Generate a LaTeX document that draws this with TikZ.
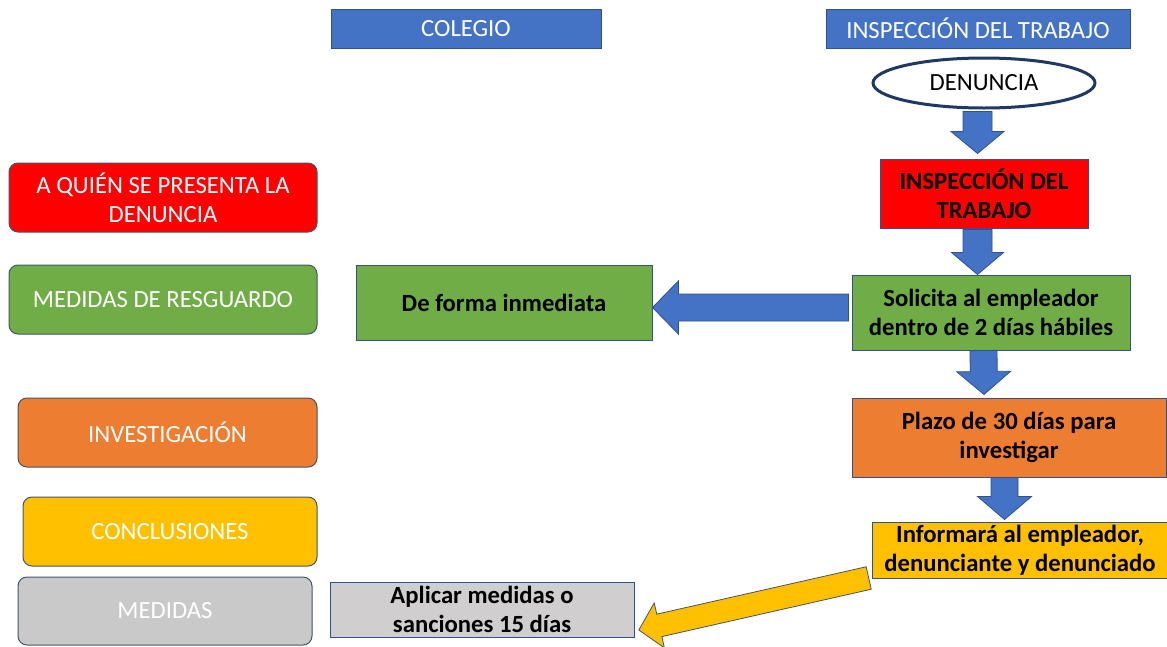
\documentclass[tikz,border=0pt]{standalone}
\usepackage{fontspec}
\setmainfont{Carlito}
\usetikzlibrary{calc,shapes.geometric}
\definecolor{cblue}{HTML}{4472C4}
\definecolor{cedge}{HTML}{2F528F}
\definecolor{cred}{HTML}{FF0000}
\definecolor{cgreen}{HTML}{70AD47}
\definecolor{corange}{HTML}{ED7D31}
\definecolor{cgold}{HTML}{FFC000}
\definecolor{cgrayL}{HTML}{C9C9C9}
\definecolor{cgrayM}{HTML}{D0CECE}
\definecolor{cnavy}{HTML}{1F3864}
\definecolor{cleftedge}{HTML}{44546A}
\newcommand\blkarrow[6]{%
  \path let \p1=(#2), \p2=(#3) in \pgfextra{%
    \pgfmathsetmacro\bkang{atan2(\y2-\y1,\x2-\x1)}%
    \pgfmathsetmacro\bklen{veclen(\x2-\x1,\y2-\y1)}%
    \xdef\bkang{\bkang}\xdef\bklen{\bklen}%
    \xdef\bkx{\x1}\xdef\bky{\y1}};
  \draw[#1, shift={(\bkx,\bky)}, rotate=\bkang] (0,-#4) -- ({\bklen-#6},-#4) -- ({\bklen-#6},-#5) -- (\bklen,0) -- ({\bklen-#6},#5) -- ({\bklen-#6},#4) -- (0,#4) -- cycle;}
\tikzset{
  box/.style={draw=cedge, line width=1pt, inner sep=0pt, align=center, font=\fontsize{24.7}{29}\selectfont},
  catbox/.style={box, rounded corners=9pt, text=white, draw=cleftedge},
  rbox/.style={box, font=\fontsize{24.7}{29}\selectfont\bfseries, text=black},
  hdr/.style={box, fill=cblue, text=white},
  barrow/.style={draw=cedge, line width=0.8pt, fill=cblue, line join=miter},
  yarrow/.style={draw=cleftedge, line width=0.8pt, fill=cgold, line join=miter}
}
\begin{document}
\begin{tikzpicture}[x=1pt,y=1pt]
\useasboundingbox (0,0) rectangle (1167,-646);
\fill[white] (0,0) rectangle (1167,-646);
% headers
\node[hdr, minimum width=270pt, minimum height=39pt] (colegio) at (466,-28.5) {COLEGIO};
\node[hdr, minimum width=304pt, minimum height=39pt] (inspec) at (978,-28.5) {INSPECCIÓN DEL TRABAJO};
% left categories
\node[catbox, fill=cred, minimum width=308pt, minimum height=69pt] (quien) at (163,-197.5) {A QUIÉN SE PRESENTA LA\\DENUNCIA};
\node[catbox, fill=cgreen, minimum width=308pt, minimum height=69pt] (resg) at (163,-299.5) {MEDIDAS DE RESGUARDO};
\node[catbox, fill=corange, minimum width=299pt, minimum height=69pt] (invest) at (167.5,-432.5) {INVESTIGACIÓN};
\node[catbox, fill=cgold, minimum width=294pt, minimum height=69pt] (concl) at (170,-531.5) {CONCLUSIONES};
\node[catbox, fill=cgrayL, minimum width=294pt, minimum height=68pt] (medidas) at (165,-611) {MEDIDAS};
% right flow
\node[ellipse, draw=cnavy, line width=3pt, fill=white, minimum width=222pt, minimum height=50pt, inner sep=0pt, font=\fontsize{24.7}{29}\selectfont] (den) at (984,-83) {DENUNCIA};
\node[rbox, fill=cred, minimum width=208pt, minimum height=69pt] (ins2) at (984,-193.5) {INSPECCIÓN DEL\\TRABAJO};
\node[rbox, fill=cgreen, minimum width=278pt, minimum height=75pt] (sol) at (991,-312.5) {Solicita al empleador\\dentro de 2 días hábiles};
\node[rbox, fill=corange, minimum width=314pt, minimum height=79pt] (plazo) at (1009,-437.5) {Plazo de 30 días para\\investigar};
\node[rbox, fill=cgold, minimum width=296pt, minimum height=56pt] (inf) at (1020,-550) {Informará al empleador,\\denunciante y denunciado};
% middle
\node[rbox, fill=cgreen, minimum width=296pt, minimum height=75pt] (forma) at (504,-302.5) {De forma inmediata};
\node[rbox, fill=cgrayM, minimum width=304pt, minimum height=55pt] (aplic) at (482,-609.5) {Aplicar medidas o\\sanciones 15 días};
% block arrows
\blkarrow{barrow}{$(den.south)+(-6.5,-2)$}{$(ins2.north)+(-6.5,5)$}{14.5}{26.5}{22}
\blkarrow{barrow}{$(ins2.south)+(-6.5,-1)$}{$(sol.north)+(-13.5,0)$}{14.5}{26}{22}
\blkarrow{barrow}{$(sol.south)+(-7.5,0)$}{$(plazo.north)+(-25,3)$}{13.5}{27}{23}
\blkarrow{barrow}{$(plazo.south)+(-4.5,0)$}{$(inf.north)+(-15.5,2)$}{13.5}{27}{23}
\blkarrow{barrow}{$(sol.west)+(-3,5)$}{$(forma.east)+(0,-5)$}{13.5}{26.7}{26}
\blkarrow{yarrow}{$(inf.south west)+(-2.8,0.5)$}{$(aplic.east)+(4.3,-20.5)$}{11.5}{23}{21}
\end{tikzpicture}
\end{document}
